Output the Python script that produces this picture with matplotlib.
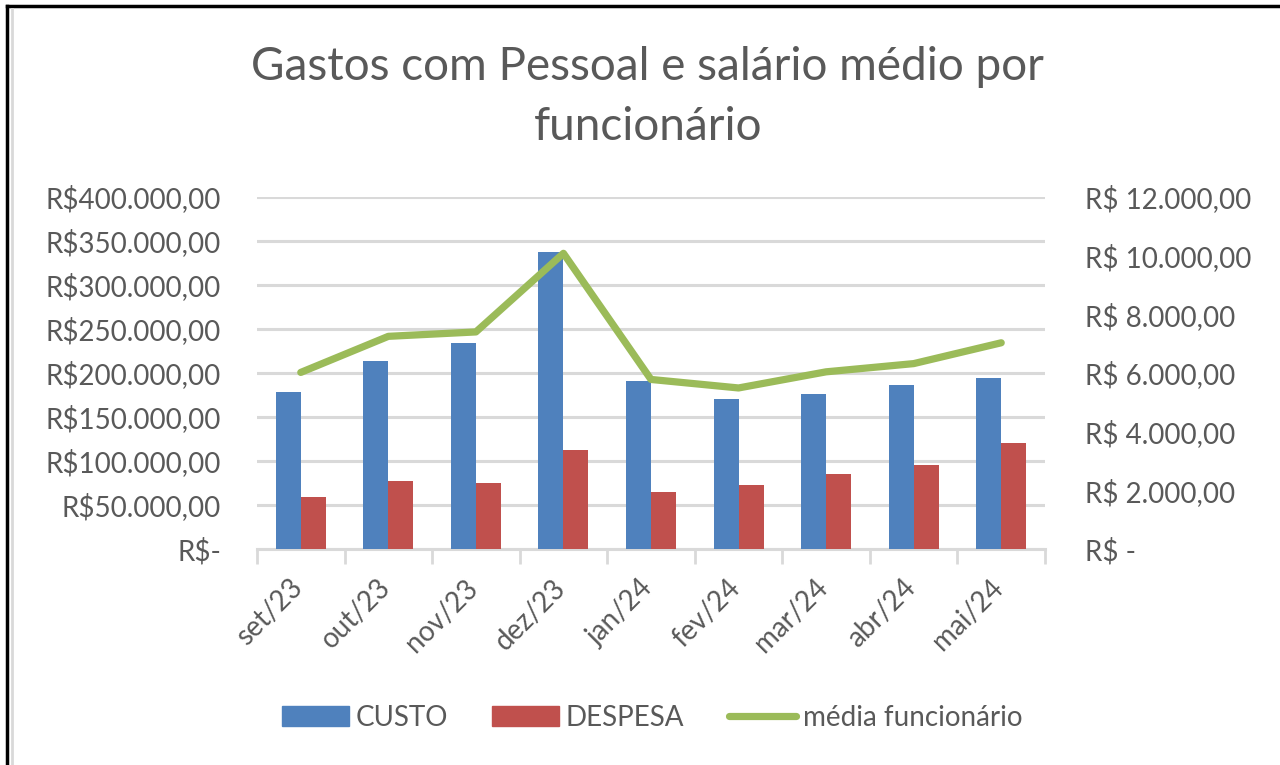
import matplotlib.pyplot as plt
import matplotlib.transforms as mtransforms
import numpy as np
from matplotlib.lines import Line2D
from matplotlib.ticker import FuncFormatter

# ---------------------------
# Data
# ---------------------------
meses = ["set/23", "out/23", "nov/23", "dez/23", "jan/24",
         "fev/24", "mar/24", "abr/24", "mai/24"]
custo = [178000, 214000, 234000, 337000, 191000, 170000, 176000, 186000, 194000]
despesa = [59000, 77000, 75000, 112000, 65000, 73000, 85000, 96000, 120000]
media_funcionario = [6020, 7250, 7400, 10080, 5780, 5490, 6040, 6320, 7030]

left_ticks = [0, 50000, 100000, 150000, 200000, 250000, 300000, 350000, 400000]
right_ticks = [0, 2000, 4000, 6000, 8000, 10000, 12000]

AZUL = "#4F81BD"
VERMELHO = "#C0504D"
VERDE = "#9BBB59"
CINZA_TXT = "#595959"
CINZA_GRID = "#D9D9D9"

plt.rcParams["font.family"] = ["Lato", "DejaVu Sans"]


def brl(v, espaco=False):
    """Formato contábil brasileiro: R$400.000,00 / R$-"""
    sep = " " if espaco else ""
    if v == 0:
        return f"R${sep}-"
    s = f"{v:,.2f}".replace(",", "X").replace(".", ",").replace("X", ".")
    return f"R${sep}{s}"


fig = plt.figure(figsize=(12.8, 7.65), dpi=100)
ax = fig.add_axes([257 / 1280, 1 - 549 / 765, (1045 - 257) / 1280, (549 - 197) / 765])
ax2 = ax.twinx()

x = np.arange(len(meses))
w = 0.286
ax.bar(x - w / 2, custo, width=w, color=AZUL, zorder=3)
ax.bar(x + w / 2, despesa, width=w, color=VERMELHO, zorder=3)
ax2.plot(x, media_funcionario, color=VERDE, linewidth=5.2, solid_capstyle="round",
         solid_joinstyle="round", zorder=4)

ax.set_xlim(-0.5, len(meses) - 0.5)
ax.set_ylim(0, 400000)
ax2.set_ylim(0, 12000)

ax.set_yticks(left_ticks)
ax.yaxis.set_major_formatter(FuncFormatter(lambda v, p: brl(v)))
ax2.set_yticks(right_ticks)
ax2.yaxis.set_major_formatter(FuncFormatter(lambda v, p: brl(v, espaco=True)))

ax.grid(axis="y", color=CINZA_GRID, linewidth=2.2, zorder=0)
ax.set_axisbelow(True)

for a in (ax, ax2):
    for s in a.spines.values():
        s.set_visible(False)
ax.spines["bottom"].set_visible(True)
ax.spines["bottom"].set_color(CINZA_GRID)
ax.spines["bottom"].set_linewidth(2.2)

ax.tick_params(axis="y", length=0, pad=26, labelsize=20, labelcolor=CINZA_TXT)
ax2.tick_params(axis="y", length=0, pad=29, labelsize=20, labelcolor=CINZA_TXT)

# category labels + boundary ticks
ax.set_xticks(x)
ax.set_xticklabels(meses, rotation=45, ha="right", va="center", rotation_mode="anchor",
                   fontsize=20, color=CINZA_TXT)
ax.tick_params(axis="x", which="major", length=0, pad=25)
shift = mtransforms.ScaledTranslation(-2 / 100, 0, fig.dpi_scale_trans)
for lbl in ax.get_xticklabels():
    lbl.set_transform(lbl.get_transform() + shift)
ax.set_xticks(np.arange(-0.5, len(meses)), minor=True)
ax.tick_params(axis="x", which="minor", length=11, width=2, color=CINZA_GRID)

fig.text(0.506, 1 - 97 / 765, "Gastos com Pessoal e salário médio por\nfuncionário",
         ha="center", va="center", fontsize=33, color=CINZA_TXT, linespacing=1.5)

handles = [
    plt.Rectangle((0, 0), 1, 1, color=AZUL),
    plt.Rectangle((0, 0), 1, 1, color=VERMELHO),
    Line2D([0], [0], color=VERDE, linewidth=5.2, solid_capstyle="round"),
]
fig.legend(handles, ["CUSTO", "DESPESA", "média funcionário"], loc="center",
           bbox_to_anchor=(652 / 1280, 1 - 718 / 765), ncol=3, frameon=False,
           fontsize=20, labelcolor=CINZA_TXT, handlelength=2.4, handleheight=0.75,
           handletextpad=0.25, columnspacing=1.6)

# frame around the chart
fig.add_artist(Line2D([7 / 1280, 1], [1 - 6 / 765, 1 - 6 / 765], color="black", linewidth=2.5))
fig.add_artist(Line2D([7 / 1280, 7 / 1280], [0, 1 - 6 / 765], color="black", linewidth=2.5))
fig.add_artist(Line2D([11.5 / 1280, 11.5 / 1280], [0, 1 - 9 / 765], color=CINZA_GRID, linewidth=2))

fig.savefig("out.png", dpi=100)
